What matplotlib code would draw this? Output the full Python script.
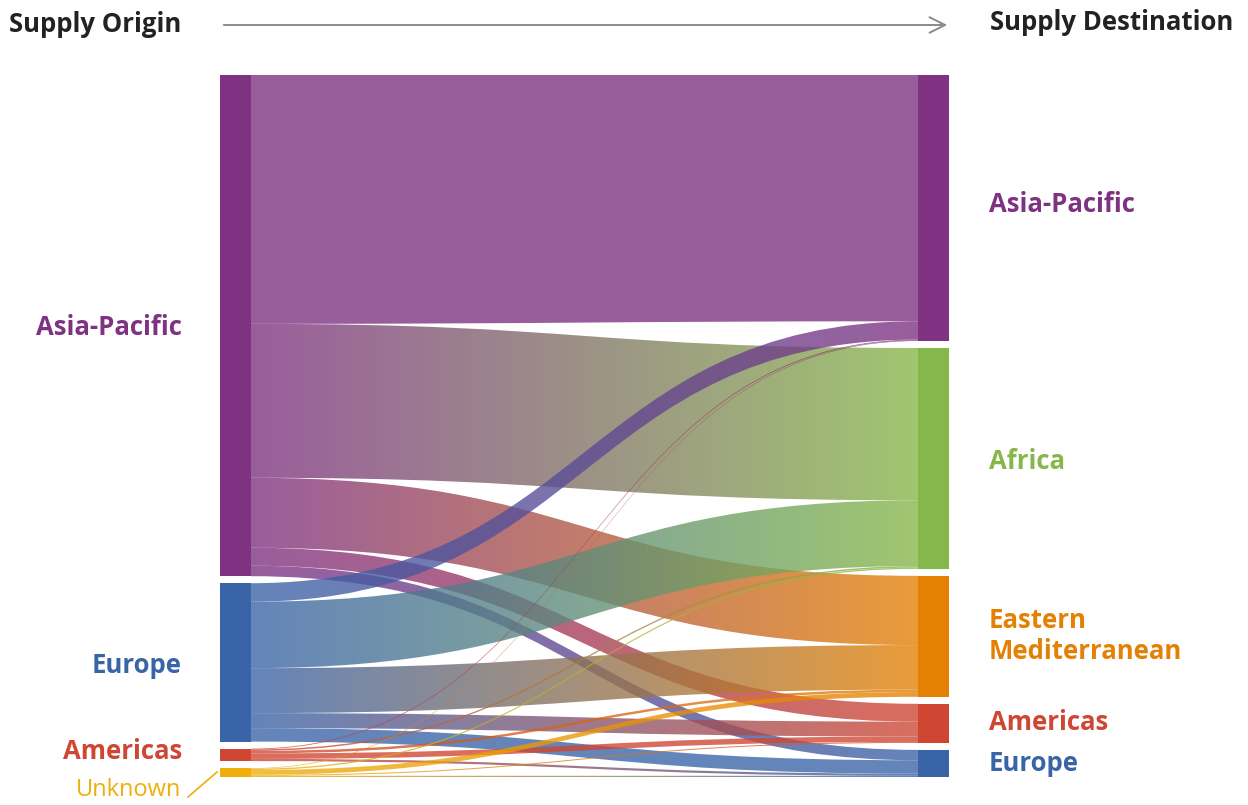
import numpy as np
import matplotlib
matplotlib.use('Agg')
import matplotlib.pyplot as plt
from matplotlib.path import Path
from matplotlib.patches import PathPatch, Rectangle
from matplotlib.colors import to_rgb

plt.rcParams['font.family'] = ['Open Sans', 'DejaVu Sans']

# origin and destination regions
sources = ['Asia-Pacific', 'Europe', 'Americas', 'Unknown']
targets = ['Asia-Pacific', 'Africa', 'Eastern\nMediterranean', 'Americas', 'Europe']

# flow volume, rows = origin, columns = destination
flows = np.array([
    [249.0, 154.0, 70.0, 18.0, 10.5],   # Asia-Pacific
    [18.5, 66.5, 45.0, 15.0, 13.5],     # Europe
    [0.8, 1.5, 2.5, 5.5, 2.2],          # Americas
    [0.6, 1.3, 4.8, 1.0, 1.2],          # Unknown
])

src_colors = ['#7f3282', '#3a64a8', '#cf4733', '#efae0a']
tgt_colors = ['#7f3282', '#86b74a', '#e48104', '#cf4733', '#3a64a8']

fig = plt.figure(figsize=(12.48, 8.05), dpi=100)
ax = fig.add_axes([0, 0, 1, 1])
ax.axis('off')

top, bottom, gap = 75, 777, 7
xl0, xl1 = 220, 251
xr0, xr1 = 918, 949
link_alpha = 0.79


def layout(totals):
    scale = (bottom - top - gap * (len(totals) - 1)) / totals.sum()
    pos, y = [], top
    for t in totals:
        pos.append((y, y + t * scale))
        y += t * scale + gap
    return pos, scale


src_pos, s_scale = layout(flows.sum(axis=1))
tgt_pos, t_scale = layout(flows.sum(axis=0))

# links: ordered by destination at the origin, by origin at the destination
src_off = [p[0] for p in src_pos]
tgt_off = [p[0] for p in tgt_pos]
links = []
for i in range(len(sources)):
    for j in range(len(targets)):
        v = flows[i, j]
        a0, a1 = src_off[i], src_off[i] + v * s_scale
        src_off[i] = a1
        links.append((i, j, a0, a1))
tgt_bands = {}
for j in range(len(targets)):
    for i in range(len(sources)):
        v = flows[i, j]
        tgt_bands[(i, j)] = (tgt_off[j], tgt_off[j] + v * t_scale)
        tgt_off[j] += v * t_scale

for i, j, a0, a1 in links:
    b0, b1 = tgt_bands[(i, j)]
    xm = (xl1 + xr0) / 2
    verts = [(xl1, a0), (xm, a0), (xm, b0), (xr0, b0),
             (xr0, b1), (xm, b1), (xm, a1), (xl1, a1), (xl1, a0)]
    codes = [Path.MOVETO, Path.CURVE4, Path.CURVE4, Path.CURVE4,
             Path.LINETO, Path.CURVE4, Path.CURVE4, Path.CURVE4, Path.CLOSEPOLY]
    patch = PathPatch(Path(verts, codes), facecolor='none', edgecolor='none')
    ax.add_patch(patch)
    c0 = np.array(to_rgb(src_colors[i]))
    c1 = np.array(to_rgb(tgt_colors[j]))
    t = np.linspace(0, 1, 256)[:, None]
    grad = np.ones((1, 256, 4))
    grad[0, :, :3] = c0 * (1 - t) + c1 * t
    grad[0, :, 3] = link_alpha
    ylo, yhi = min(a0, b0) - 1, max(a1, b1) + 1
    im = ax.imshow(grad, extent=[xl1, xr0, yhi, ylo], aspect='auto',
                   interpolation='bilinear', zorder=2)
    im.set_clip_path(patch)

for (y0, y1), c in zip(src_pos, src_colors):
    ax.add_patch(Rectangle((xl0, y0), xl1 - xl0, y1 - y0, color=c, lw=0, zorder=3))
for (y0, y1), c in zip(tgt_pos, tgt_colors):
    ax.add_patch(Rectangle((xr0, y0), xr1 - xr0, y1 - y0, color=c, lw=0, zorder=3))

fs = 18.5
# node labels
label_shift = [2, 3, -3, 0]
for k, (name, (y0, y1), c) in enumerate(zip(sources, src_pos, src_colors)):
    if name == 'Unknown':
        ax.text(181, 790, name, color=c, fontsize=17, ha='right', va='center')
        ax.plot([188, 217], [797, 772], color=c, lw=1.2)
    else:
        ax.text(182, (y0 + y1) / 2 + label_shift[k], name, color=c, fontsize=fs,
                fontweight='bold', ha='right', va='center')
tgt_shift = [-3, 3, 0, -1, 0]
for k, (name, (y0, y1), c) in enumerate(zip(targets, tgt_pos, tgt_colors)):
    ax.text(989, (y0 + y1) / 2 + tgt_shift[k], name, color=c, fontsize=fs,
            fontweight='bold', ha='left', va='center', linespacing=1.2)

# header
ax.text(9, 24, 'Supply Origin', color='#222222', fontsize=fs, fontweight='bold',
        ha='left', va='center')
ax.text(990, 23, 'Supply Destination', color='#222222', fontsize=fs,
        fontweight='bold', ha='left', va='center')
ax.annotate('', xy=(950, 25), xytext=(221, 25),
            arrowprops=dict(arrowstyle='->', color='#8a8a8a', lw=1.4,
                            mutation_scale=28))

ax.set_xlim(0, 1248)
ax.set_ylim(805, 0)
fig.savefig('out.png', dpi=100)
